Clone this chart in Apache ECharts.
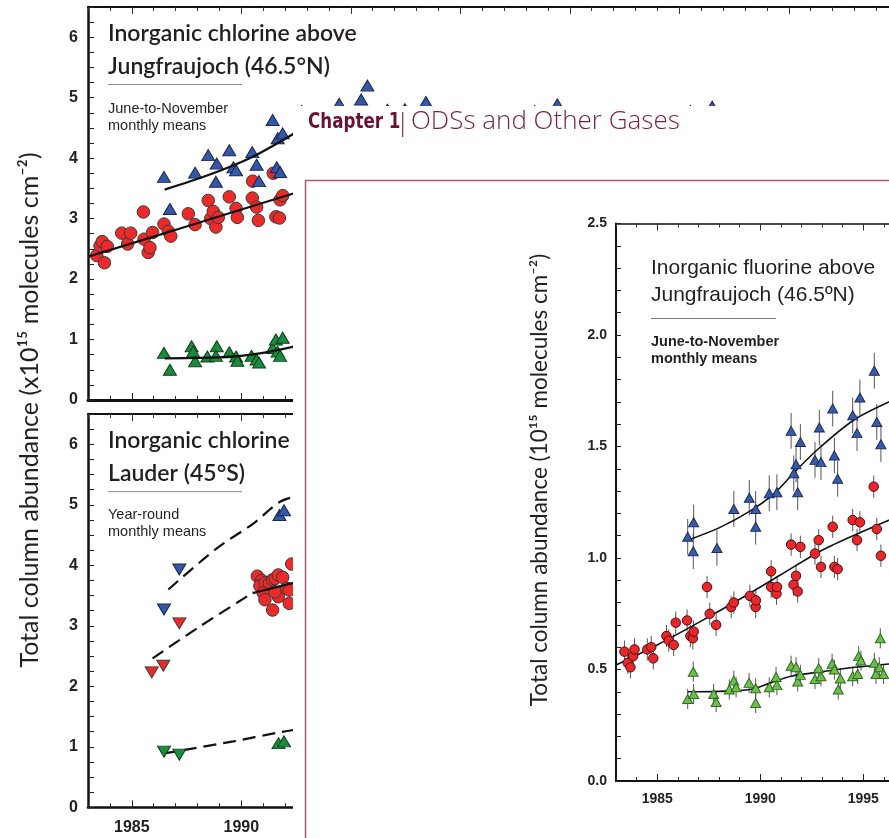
<!DOCTYPE html>
<html><head><meta charset="utf-8">
<script src="https://cdn.jsdelivr.net/npm/echarts@6/dist/echarts.min.js"></script>
<style>html,body{margin:0;padding:0;background:#fff}#c{width:889px;height:838px}</style>
</head><body><div id="c"></div>
<script>
// ---------- DATA ----------
// Panel A: Inorganic chlorine above Jungfraujoch (x = year, y = 1e15 molec/cm2)
const jfjClRed = [[1983.40,2.39],[1983.55,2.55],[1983.75,2.27],[1983.65,2.62],[1983.88,2.54],[1984.54,2.76],[1984.81,2.58],[1984.95,2.76],[1985.53,3.11],[1985.56,2.66],[1985.75,2.44],[1985.83,2.52],[1985.95,2.77],[1986.47,2.91],[1986.67,2.79],[1986.78,2.71],[1987.58,3.08],[1987.89,2.90],[1988.49,3.30],[1988.60,3.00],[1988.72,3.12],[1988.84,2.86],[1988.95,3.02],[1989.45,3.36],[1989.76,3.17],[1989.82,3.02],[1990.50,3.34],[1990.52,3.62],[1990.70,3.19],[1990.78,2.97],[1991.46,3.75],[1991.58,3.03],[1991.74,3.01],[1991.77,3.31],[1991.89,3.38]];
const jfjClBlue = [[1986.47,3.69],[1986.74,3.16],[1987.89,3.76],[1988.49,4.05],[1988.88,3.91],[1988.84,3.61],[1989.45,4.13],[1989.64,3.85],[1989.76,3.80],[1990.50,4.10],[1990.70,3.89],[1990.81,3.62],[1991.43,4.63],[1991.62,3.85],[1991.66,4.33],[1991.77,3.77],[1991.89,4.41],
  [1992.76,4.78],[1994.47,4.90],[1995.47,4.97],[1995.76,5.20],[1996.67,4.80],[1997.47,4.81],[1998.43,4.93],[2003.40,4.78],[2004.43,4.89],[2010.50,4.78],[2011.50,4.85]];
const jfjClGreen = [[1986.47,0.78],[1986.74,0.50],[1987.73,0.89],[1987.80,0.80],[1987.89,0.64],[1988.45,0.72],[1988.88,0.89],[1988.84,0.73],[1989.45,0.79],[1989.76,0.72],[1989.82,0.65],[1990.47,0.73],[1990.70,0.67],[1990.81,0.62],[1991.43,0.86],[1991.58,1.00],[1991.66,0.80],[1991.77,0.73],[1991.89,1.03]];
const jfjClRedFit = [[1983.0,2.37],[1987.5,2.87],[1992.6,3.44]];
const jfjClBlueFit = [[1986.5,3.48],[1988.5,3.72],[1990.5,4.02],[1992.6,4.45]];
const jfjClGreenFit = [[1986.5,0.69],[1988.5,0.70],[1990.0,0.73],[1991.3,0.80],[1992.6,0.90]];

// Panel B: Inorganic chlorine above Lauder
const ldBlueDown = [[1986.47,3.27],[1987.17,3.93]];
const ldBlueUp = [[1991.74,4.83],[1991.95,4.91]];
const ldRedDown = [[1985.91,2.23],[1986.44,2.34],[1987.17,3.04]];
const ldRedCircle = [[1990.73,3.82],[1990.93,3.75],[1990.85,3.66],[1991.08,3.71],[1991.28,3.70],[1991.43,3.76],[1991.54,3.78],[1991.69,3.84],[1991.89,3.80],[1991.00,3.54],[1991.08,3.43],[1991.43,3.26],[1991.69,3.48],[1991.54,3.56],[1992.07,3.62],[1992.19,3.59],[1992.19,3.37],[1992.30,4.02]];
const ldGreenDown = [[1986.47,0.92],[1987.17,0.87]];
const ldGreenUp = [[1991.70,1.06],[1991.95,1.09]];
const ldBlueFit = [[1986.67,3.60],[1988.88,4.28],[1990.55,4.69],[1991.77,5.05],[1992.6,5.15]];
const ldRedFit = [[1985.95,2.46],[1988.11,2.99],[1990.55,3.55]];
const ldRedSolid = [[1990.52,3.54],[1992.6,3.73]];
const ldGreenFit = [[1986.47,0.89],[1989.64,1.09],[1991.6,1.23],[1992.6,1.29]];

// Panel C: Inorganic fluorine above Jungfraujoch
const fRed = [[1983.41,0.58],[1983.57,0.53],[1983.70,0.51],[1983.83,0.56],[1983.90,0.59],[1984.52,0.59],[1984.71,0.60],[1984.81,0.55],[1985.45,0.65],[1985.56,0.63],[1985.80,0.61],[1985.90,0.71],[1986.45,0.72],[1986.61,0.65],[1986.73,0.64],[1986.77,0.67],[1987.42,0.87],[1987.55,0.75],[1987.86,0.70],[1988.59,0.78],[1988.72,0.80],[1989.50,0.83],[1989.78,0.78],[1989.79,0.81],[1990.53,0.94],[1990.53,0.87],[1990.79,0.84],[1990.82,0.87],[1991.50,1.06],[1991.62,0.88],[1991.74,0.92],[1991.82,0.85],[1991.95,1.05],[1992.66,1.02],[1992.84,1.08],[1992.95,0.96],[1993.52,1.14],[1993.60,0.96],[1993.76,0.95],[1994.49,1.17],[1994.70,1.08],[1994.84,1.16],[1995.51,1.32],[1995.66,1.13],[1995.86,1.01]];
const fBlue = [[1986.48,1.095],[1986.77,1.16],[1986.75,1.03],[1987.90,1.045],[1988.72,1.22],[1989.78,1.22],[1989.78,1.14],[1989.47,1.27],[1990.44,1.29],[1990.81,1.295],[1991.50,1.57],[1991.63,1.38],[1991.74,1.42],[1991.82,1.295],[1991.95,1.52],[1992.66,1.44],[1992.87,1.585],[1992.95,1.43],[1993.52,1.67],[1993.60,1.46],[1993.76,1.355],[1994.49,1.64],[1994.70,1.56],[1994.84,1.72],[1995.54,1.84],[1995.66,1.61],[1995.86,1.51]];
const fGreen = [[1986.48,0.368],[1986.75,0.49],[1986.77,0.39],[1987.74,0.39],[1987.86,0.354],[1988.50,0.41],[1988.72,0.45],[1988.83,0.42],[1989.46,0.44],[1989.78,0.416],[1989.78,0.35],[1990.44,0.42],[1990.77,0.466],[1990.81,0.43],[1991.50,0.517],[1991.74,0.51],[1991.82,0.446],[1991.95,0.476],[1992.66,0.457],[1992.84,0.506],[1992.95,0.47],[1993.49,0.526],[1993.60,0.50],[1993.79,0.41],[1993.89,0.46],[1994.49,0.47],[1994.73,0.48],[1994.78,0.56],[1994.89,0.54],[1995.54,0.53],[1995.62,0.48],[1995.78,0.51],[1995.83,0.64],[1995.99,0.48]];
const fRedFit = [[1983.0,0.52],[1985.0,0.61],[1987.0,0.71],[1989.0,0.815],[1991.0,0.925],[1993.0,1.035],[1995.0,1.12],[1996.5,1.18]];
const fBlueFit = [[1986.48,1.08],[1988.0,1.135],[1989.5,1.21],[1990.69,1.29],[1991.82,1.40],[1992.95,1.50],[1994.57,1.62],[1996.5,1.71]];
const fGreenFit = [[1986.48,0.40],[1988.0,0.402],[1989.5,0.41],[1990.5,0.44],[1991.5,0.47],[1993.0,0.49],[1994.6,0.51],[1996.5,0.527]];
const fErr = {red:0.05, blue:0.08, green:0.045};

const majorYears = [1985,1990,1995,2000,2005,2010,2015];

// ---------- LAYOUT ----------
const CW = 889;
const CL_X0 = 88, CL_PX_YR = 21.9;
const CL_MAX = 1983 + (CW - CL_X0) / CL_PX_YR;
const F_X0 = 616, F_PX_YR = 20.6;
const F_MAX = 1983 + (CW - F_X0) / F_PX_YR;

function xAxes(grid, max, opt){
  const base = {type:'value', gridIndex:grid, min:1983, max:max, z:opt.z||0,
    splitLine:{show:false}};
  const lbl = {show:false};
  return [
    Object.assign({}, base, {position:'bottom', interval:1,
      axisLine:{show:true,onZero:false,lineStyle:{color:'#111',width:opt.bw}},
      axisTick:{show:true,inside:true,length:4,lineStyle:{color:'#222',width:1}},
      axisLabel: opt.labels ? {show:true, margin:opt.margin, color:'#222', fontWeight:'bold',
        fontFamily:'Liberation Sans, Arial, sans-serif', fontSize:opt.fs,
        showMaxLabel:false,
        formatter:v=> (Number.isInteger(v) && v%5===0 ? String(v) : '')} : lbl}),
    Object.assign({}, base, {position:'bottom',
      axisLine:{show:false,onZero:false}, axisLabel:lbl,
      axisTick:{show:true,inside:true,length:7,customValues:majorYears,lineStyle:{color:'#222',width:1}}}),
    Object.assign({}, base, {position:'top', interval:1,
      axisLine:{show:true,onZero:false,lineStyle:{color:'#111',width:opt.tw}}, axisLabel:lbl,
      axisTick:{show:true,inside:true,length:4,lineStyle:{color:'#333',width:1}}}),
    Object.assign({}, base, {position:'top',
      axisLine:{show:false,onZero:false}, axisLabel:lbl,
      axisTick:{show:true,inside:true,length:7,customValues:majorYears,lineStyle:{color:'#333',width:1}}})
  ];
}

const grids = [
  {left:CL_X0, top:7, right:0, height:393, containLabel:false},
  {left:CL_X0, top:414, right:0, height:393.3, containLabel:false},
  {left:F_X0, top:223.5, right:0, height:557.5, containLabel:false, z:60}
];

const xAxis = [].concat(
  xAxes(0, CL_MAX, {bw:3, tw:2, labels:false}),
  xAxes(1, CL_MAX, {bw:2.5, tw:2, labels:true, fs:16, margin:12}),
  xAxes(2, F_MAX, {bw:2, tw:1.5, labels:true, fs:14, margin:11, z:60})
);

function clY(grid){
  return {type:'value', gridIndex:grid, min:0, max:6.5, interval:1, position:'left',
    axisLine:{show:true,onZero:false,lineStyle:{color:'#111',width:2.5}},
    axisTick:{show:true,inside:true,length:6,lineStyle:{color:'#222'}},
    minorTick:{show:true,splitNumber:4,length:6,lineStyle:{color:'#222'}},
    axisLabel:{show:true,margin:10,color:'#222',fontWeight:'bold',fontSize:16,
      fontFamily:'Liberation Sans, Arial, sans-serif',
      formatter:v=> (Number.isInteger(v) ? String(v) : '')},
    splitLine:{show:false}, minorSplitLine:{show:false}};
}
const yAxis = [clY(0), clY(1),
  {type:'value', gridIndex:2, min:0, max:2.5, interval:0.5, position:'left', z:60,
    axisLine:{show:true,onZero:false,lineStyle:{color:'#111',width:2}},
    axisTick:{show:true,inside:true,length:5,lineStyle:{color:'#222'}},
    minorTick:{show:true,splitNumber:5,length:5,lineStyle:{color:'#222'}},
    axisLabel:{show:true,margin:9,color:'#222',fontWeight:'bold',fontSize:14,
      fontFamily:'Liberation Sans, Arial, sans-serif', formatter:v=>v.toFixed(1)},
    splitLine:{show:false}}
];

const C = {
  red:{fill:'#ec2a2a',stroke:'#3a3a3a'},
  blue:{fill:'#3557a8',stroke:'#1a2550'},
  green:{fill:'#1c8a3c',stroke:'#0c3f1a'},
  fred:{fill:'#e8262b',stroke:'#4a1010'},
  fblue:{fill:'#3a5aa8',stroke:'#1c2d5e'},
  fgreen:{fill:'#6cbf4b',stroke:'#2f6b20'}
};

function scat(data, xi, yi, col, symbol, size, rot, z){
  return {type:'scatter', xAxisIndex:xi, yAxisIndex:yi, data:data, symbol:symbol,
    symbolSize:size, symbolRotate:rot||0, z:z||3, silent:true,
    itemStyle:{color:col.fill, borderColor:col.stroke, borderWidth:1, opacity:1}};
}
function fit(data, xi, yi, w, dashed, z, smooth){
  return {type:'line', xAxisIndex:xi, yAxisIndex:yi, data:data, showSymbol:false,
    smooth:smooth?0.3:false,
    z:z||4, silent:true, lineStyle:{color:'#111', width:w, type: dashed? [13,7] : 'solid'}};
}
function err(data, xi, yi, e, z){
  return {type:'custom', xAxisIndex:xi, yAxisIndex:yi, data:data, z:z, silent:true,
    renderItem:function(params, api){
      const x=api.value(0), y=api.value(1);
      const p1=api.coord([x,y-e]), p2=api.coord([x,y+e]);
      return {type:'line', shape:{x1:p1[0],y1:p1[1],x2:p2[0],y2:p2[1]},
        style:{stroke:'#555',lineWidth:1}};
    }};
}

const TRI_CL=[13,11], TRI_F=[10,9];
const series = [
  // Panel A
  scat(jfjClRed,0,0,C.red,'circle',12.5),
  scat(jfjClBlue,0,0,C.blue,'triangle',TRI_CL),
  scat(jfjClGreen,0,0,C.green,'triangle',TRI_CL),
  fit(jfjClRedFit,0,0,2.2,false,5,true),
  fit(jfjClBlueFit,0,0,2.2,false,5,true),
  fit(jfjClGreenFit,0,0,2.2,false,5,true),
  // Panel B
  fit(ldBlueFit,4,1,2.2,true,2,true),
  fit(ldRedFit,4,1,2.2,true,2,true),
  fit(ldGreenFit,4,1,2.2,true,2,true),
  scat(ldBlueDown,4,1,C.blue,'triangle',TRI_CL,180),
  scat(ldBlueUp,4,1,C.blue,'triangle',TRI_CL),
  scat(ldRedDown,4,1,C.red,'triangle',TRI_CL,180),
  scat(ldRedCircle,4,1,C.red,'circle',12.5),
  scat(ldGreenDown,4,1,C.green,'triangle',TRI_CL,180),
  scat(ldGreenUp,4,1,C.green,'triangle',TRI_CL),
  fit(ldRedSolid,4,1,2.2,false,5),
  // Panel C
  err(fRed,8,2,fErr.red,61),
  err(fBlue,8,2,fErr.blue,61),
  err(fGreen,8,2,fErr.green,61),
  fit(fRedFit,8,2,1.6,false,62,true),
  fit(fBlueFit,8,2,1.6,false,62,true),
  fit(fGreenFit,8,2,1.6,false,62,true),
  scat(fRed,8,2,C.fred,'circle',9.5,0,63),
  scat(fBlue,8,2,C.fblue,'triangle',TRI_F,0,63),
  scat(fGreen,8,2,C.fgreen,'triangle',TRI_F,0,63)
];

const TITLE_FONT = 'Lato, "Open Sans", sans-serif';
function txt(s, x, y, font, fill, z, align){
  return {type:'text', z:z, silent:true, style:{text:s, x:x, y:y, font:font, fill:fill||'#231f20',
    textAlign:align||'left', textVerticalAlign:'middle'}};
}
function hline(x1,x2,y,z,col){
  return {type:'line', z:z, silent:true, shape:{x1:x1,y1:y,x2:x2,y2:y}, style:{stroke:col||'#888',lineWidth:1}};
}

const graphic = [
  // Panel A texts
  txt('Inorganic chlorine above',108,34,'600 23px '+TITLE_FONT,'#231f20',5),
  txt('Jungfraujoch (46.5°N)',108,67,'600 23px '+TITLE_FONT,'#231f20',5),
  hline(108,242,84.5,5),
  txt('June-to-November',108,109,'14.5px "Liberation Sans", Arial, sans-serif','#231f20',5),
  txt('monthly means',108,126,'14.5px "Liberation Sans", Arial, sans-serif','#231f20',5),
  // Panel B texts
  txt('Inorganic chlorine above',108,440.5,'600 23px '+TITLE_FONT,'#231f20',5),
  txt('Lauder (45°S)',108,474,'600 23px '+TITLE_FONT,'#231f20',5),
  hline(108,242,491.7,5),
  txt('Year-round',108,515,'14.5px "Liberation Sans", Arial, sans-serif','#231f20',5),
  txt('monthly means',108,532,'14.5px "Liberation Sans", Arial, sans-serif','#231f20',5),
  // left y-axis title
  {type:'text', z:5, silent:true, x:30, y:410, rotation:Math.PI/2,
    style:{text:'Total column abundance (x10¹⁵ molecules cm⁻²)', x:0, y:0,
      font:'25px Lato, "Open Sans", sans-serif', fill:'#231f20', textAlign:'center', textVerticalAlign:'middle'}},
  // white page overlay
  {type:'rect', z:50, silent:true, shape:{x:293,y:106,width:700,height:800}, style:{fill:'#ffffff'}},
  // chapter header
  {type:'text', z:51, silent:true, x:308, y:122.5, scaleX:0.76,
    style:{text:'Chapter 1', x:0, y:0, font:'bold 22px "Liberation Sans Narrow", "DejaVu Sans", sans-serif',
      fill:'#6b1233', textAlign:'left', textVerticalAlign:'middle'}},
  txt('|',396,123.5,'300 25px "Open Sans", sans-serif','#6b1233',51),
  txt('ODSs and Other Gases',411,122,'300 26px "Open Sans", sans-serif','#7a1f3d',51),
  // pink frame
  {type:'rect', z:51, silent:true, shape:{x:305.5,y:180.5,width:700,height:800}, style:{fill:null, stroke:'#a35a78', lineWidth:1.5}},
  // fluorine y-axis title
  {type:'text', z:66, silent:true, x:540, y:480, rotation:Math.PI/2,
    style:{text:'Total column abundance (10¹⁵ molecules cm⁻²)', x:0, y:0,
      font:'22.5px Lato, "Open Sans", sans-serif', fill:'#231f20', textAlign:'center', textVerticalAlign:'middle'}},
  // Panel C texts
  txt('Inorganic fluorine above',651,268,'21px "Liberation Sans", Arial, sans-serif','#231f20',66),
  txt('Jungfraujoch (46.5ºN)',651,295,'21px "Liberation Sans", Arial, sans-serif','#231f20',66),
  hline(651,776,318.5,66,'#777'),
  txt('June-to-November',651,342,'bold 14.5px "Liberation Sans", Arial, sans-serif','#231f20',66),
  txt('monthly means',651,358.5,'bold 14.5px "Liberation Sans", Arial, sans-serif','#231f20',66)
];

const chart = echarts.init(document.getElementById('c'), null, {renderer:'canvas'});
chart.setOption({
  animation:false, backgroundColor:'#ffffff',
  grid:grids, xAxis:xAxis, yAxis:yAxis, series:series, graphic:graphic
});
</script></body></html>
